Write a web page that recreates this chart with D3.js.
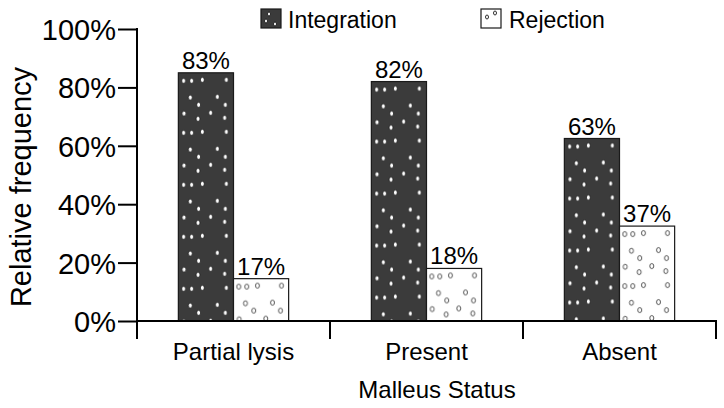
<!DOCTYPE html>
<html>
<head>
<meta charset="utf-8">
<script src="https://cdn.jsdelivr.net/npm/d3@7"></script>
<style>
  html, body { margin: 0; padding: 0; background: #fff; }
  svg { display: block; }
  text { font-family: "Liberation Sans", Arial, Helvetica, sans-serif; fill: #000; }
</style>
</head>
<body>
<svg id="chart" width="724" height="408"></svg>
<script>
// ---- data ----
const categories = ["Partial lysis", "Present", "Absent"];
const seriesNames = ["Integration", "Rejection"];
const integrationValues = [85, 82, 62.5];
const rejectionValues = [14.5, 18, 32.5];
const integrationLabels = ["83%", "82%", "63%"];
const rejectionLabels = ["17%", "18%", "37%"];
const yTicks = [0, 20, 40, 60, 80, 100];
const yTickLabels = ["0%", "20%", "40%", "60%", "80%", "100%"];
const xTitle = "Malleus Status";
const yTitle = "Relative frequency";

(function () {
// ---- layout ----
const svg = d3.select("#chart");
const mLeft = 137, mRight = 716, mTop = 29, mBottom = 321;

const y = d3.scaleLinear().domain([0, 100]).range([mBottom, mTop]);
const x = d3.scaleBand().domain(categories).range([mLeft, mRight]).padding(0);
const xSub = d3.scaleBand().domain(seriesNames).range([0, x.bandwidth()])
  .paddingInner(0).paddingOuter(0.75);

const fills = { Integration: "#3b3b3b", Rejection: "#ffffff" };

// dot pattern tiles
const dots = [[5.3,8],[13.3,8],[24,7],[48,7],[12,24.7],[39,24],[20.3,32],[47,32],
              [5.7,40.7],[32.3,40],[19.7,46],[46.3,45]];
const defs = svg.append("defs");

const rows = [];
categories.forEach((c, i) => {
  rows.push({ cat: c, series: "Integration", value: integrationValues[i], label: integrationLabels[i], i });
  rows.push({ cat: c, series: "Rejection", value: rejectionValues[i], label: rejectionLabels[i], i });
});

rows.forEach((d, k) => {
  const bx = x(d.cat) + xSub(d.series);
  const p = defs.append("pattern")
    .attr("id", "pat" + k)
    .attr("patternUnits", "userSpaceOnUse")
    .attr("x", bx).attr("y", y(d.value))
    .attr("width", xSub.bandwidth()).attr("height", 52);
  p.append("rect").attr("width", xSub.bandwidth()).attr("height", 52).attr("fill", fills[d.series]);
  dots.forEach(([dx, dy]) => {
    p.append("ellipse").attr("cx", dx).attr("cy", dy).attr("rx", 2.0).attr("ry", 2.5)
      .attr("fill", "#fff").attr("stroke", "#111").attr("stroke-width", 0.7);
  });
});

// bars
svg.append("g").selectAll("rect").data(rows).join("rect")
  .attr("x", d => x(d.cat) + xSub(d.series))
  .attr("y", d => y(d.value))
  .attr("width", xSub.bandwidth())
  .attr("height", d => y(0) - y(d.value))
  .attr("fill", (d, k) => `url(#pat${k})`)
  .attr("stroke", "#1a1a1a").attr("stroke-width", 1.2);

// bar labels
svg.append("g").selectAll("text").data(rows).join("text")
  .attr("x", d => x(d.cat) + xSub(d.series) + xSub.bandwidth() / 2)
  .attr("y", d => y(d.value) - 4)
  .attr("text-anchor", "middle")
  .style("font-size", "24px")
  .text(d => d.label);

// y axis
const yAxis = d3.axisLeft(y).tickValues(yTicks).tickFormat((d, i) => yTickLabels[i])
  .tickSize(19).tickSizeOuter(0).tickPadding(2);
const gy = svg.append("g").attr("transform", `translate(${mLeft},0)`).call(yAxis);
gy.select(".domain").remove();
gy.selectAll(".tick line").attr("stroke", "#000").attr("stroke-width", 2);
gy.selectAll(".tick text").style("font-size", "29px")
  .attr("font-family", null).attr("dy", "0.36em");
svg.append("line").attr("x1", mLeft).attr("x2", mLeft).attr("y1", y(100) - 1).attr("y2", mBottom + 18)
  .attr("stroke", "#000").attr("stroke-width", 2);

// x axis
svg.append("line").attr("x1", mLeft - 1).attr("x2", mRight + 1).attr("y1", mBottom).attr("y2", mBottom)
  .attr("stroke", "#000").attr("stroke-width", 2);
const boundaries = categories.map(c => x(c) + x.bandwidth());
svg.append("g").selectAll("line").data(boundaries).join("line")
  .attr("x1", d => d).attr("x2", d => d).attr("y1", mBottom).attr("y2", mBottom + 18)
  .attr("stroke", "#000").attr("stroke-width", 2);
svg.append("g").selectAll("text").data(categories).join("text")
  .attr("x", d => x(d) + x.bandwidth() / 2)
  .attr("y", 360)
  .attr("text-anchor", "middle")
  .style("font-size", "24px")
  .text(d => d);

// axis titles
svg.append("text").attr("x", 437).attr("y", 398)
  .attr("text-anchor", "middle").style("font-size", "24px").text(xTitle);
svg.append("text").attr("transform", "translate(31,187) rotate(-90)")
  .attr("text-anchor", "middle").style("font-size", "29px").text(yTitle);

// legend
const legendPos = [{ x: 261, tx: 288 }, { x: 481, tx: 509 }];
seriesNames.forEach((s, i) => {
  const g = svg.append("g");
  g.append("rect").attr("x", legendPos[i].x).attr("y", 9).attr("width", 20).attr("height", 19)
    .attr("fill", fills[s]).attr("stroke", "#1a1a1a").attr("stroke-width", 1.2);
  const pts = i === 0 ? [[8,5],[5,12],[14,15]] : [[6,8],[14,4]];
  pts.forEach(([dx, dy]) => g.append("ellipse")
    .attr("cx", legendPos[i].x + dx).attr("cy", 9 + dy).attr("rx", 1.5).attr("ry", 2)
    .attr("fill", "#fff").attr("stroke", "#1a1a1a").attr("stroke-width", 0.9));
  g.append("text").attr("x", legendPos[i].tx).attr("y", 28)
    .style("font-size", "23px").text(s);
});
})();
</script>
</body>
</html>
